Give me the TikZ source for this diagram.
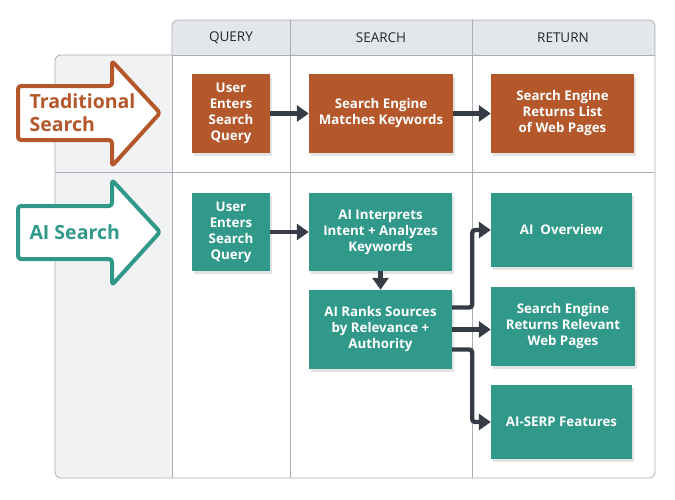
\documentclass[tikz,border=0pt]{standalone}
\usepackage{fontspec}
\setmainfont{Open Sans}
\usetikzlibrary{arrows.meta,shadows,calc}
\definecolor{orng}{HTML}{B4582B}
\definecolor{teal2}{HTML}{31998A}
\definecolor{darkarr}{HTML}{363C46}
\definecolor{gridc}{HTML}{A9ADB4}
\definecolor{hdrfill}{HTML}{E3E6EA}
\definecolor{colfill}{HTML}{F1F2F4}
\tikzset{
  box/.style={rectangle, inner sep=2pt, align=center, text=white,
     font=\bfseries\fontsize{13.3}{16}\selectfont,
     drop shadow={shadow xshift=2pt, shadow yshift=-3pt, opacity=0.22}},
  obox/.style={box, fill=orng},
  tbox/.style={box, fill=teal2},
  hdr/.style={font=\fontsize{13.5}{15}\selectfont, text=black!85},
  conn/.style={draw=darkarr, line width=4.4pt, rounded corners=3pt,
     -{Triangle[length=12pt,width=16pt]}},
  gridline/.style={draw=gridc, line width=0.8pt},
  bigarrow/.style={line width=4pt, fill=white, rounded corners=3pt, line join=round},
  lbl/.style={font=\bfseries\fontsize{19.5}{23}\selectfont, align=left, anchor=west}
}
\begin{document}
\begin{tikzpicture}[x=1pt,y=-1pt]
\useasboundingbox (0,0) rectangle (675,499);
% backgrounds
\fill[colfill, rounded corners=6pt] (172,55) -- (55,55) -- (55,478) -- (172,478) -- cycle;
\fill[colfill] (160,55) rectangle (172,478);
\fill[hdrfill, rounded corners=6pt] (172,55) -- (172,20) -- (655,20) -- (655,55) -- cycle;
\fill[hdrfill] (172,45) rectangle (655,55);
% grid
\draw[gridline, rounded corners=6pt] (172,55) -- (172,20) -- (655,20) -- (655,478) -- (55,478) -- (55,55) -- (172,55);
\draw[gridline] (172,55) -- (172,478);
\draw[gridline] (290,20) -- (290,478);
\draw[gridline] (472,20) -- (472,478);
\draw[gridline] (172,55) -- (655,55);
\draw[gridline] (55,172) -- (655,172);
% headers
\node[hdr] (hq) at (231,38) {QUERY};
\node[hdr] (hs) at (381,38) {SEARCH};
\node[hdr] (hr) at (563,38) {RETURN};
% big row arrows
\draw[bigarrow, draw=orng] (18,86) -- (112,86) -- (112,61) -- (160,113) -- (112,166) -- (112,140) -- (18,140) -- cycle;
\node[lbl, text=orng] (ltrad) at (26,113) {Traditional\\Search};
\draw[bigarrow, draw=teal2] (18,206) -- (112,206) -- (112,180) -- (160,232) -- (112,285) -- (112,259) -- (18,259) -- cycle;
\node[lbl, text=teal2] (lai) at (26,232) {AI Search};
% traditional row
\node[obox, minimum width=78pt, minimum height=79pt] (tu) at (231,113.5) {User\\Enters\\Search\\Query};
\node[obox, minimum width=144pt, minimum height=79pt] (tm) at (381,113.5) {Search Engine\\Matches Keywords};
\node[obox, minimum width=143pt, minimum height=79pt] (tr) at (562.5,113.5) {Search Engine\\Returns List\\of Web Pages};
\draw[conn] (tu.east) -- (tm.west);
\draw[conn] (tm.east) -- (tr.west);
% AI row
\node[tbox, minimum width=78pt, minimum height=78pt] (au) at (231,232) {User\\Enters\\Search\\Query};
\node[tbox, minimum width=143pt, minimum height=78pt] (ai) at (380.5,232) {AI Interprets\\Intent + Analyzes\\Keywords};
\node[tbox, minimum width=143pt, minimum height=79pt] (ar) at (380.5,329.5) {AI Ranks Sources\\by Relevance +\\Authority};
\node[tbox, minimum width=141pt, minimum height=74pt] (ao) at (561.5,230) {AI~~Overview};
\node[tbox, minimum width=144pt, minimum height=79pt] (ae) at (563,326.5) {Search Engine\\Returns Relevant\\Web Pages};
\node[tbox, minimum width=141pt, minimum height=74pt] (as) at (561.5,422) {AI-SERP Features};
\draw[conn] (au.east) -- (ai.west);
\draw[conn] (ai.south) -- (ar.north);
\draw[conn] ([yshift=22pt]ar.east) -- ++(20,0) |- (ao.west);
\draw[conn] (ar.east) -- (ar.east -| ae.west);
\draw[conn] ([yshift=-20pt]ar.east) -- ++(20,0) |- (as.west);
\end{tikzpicture}
\end{document}
